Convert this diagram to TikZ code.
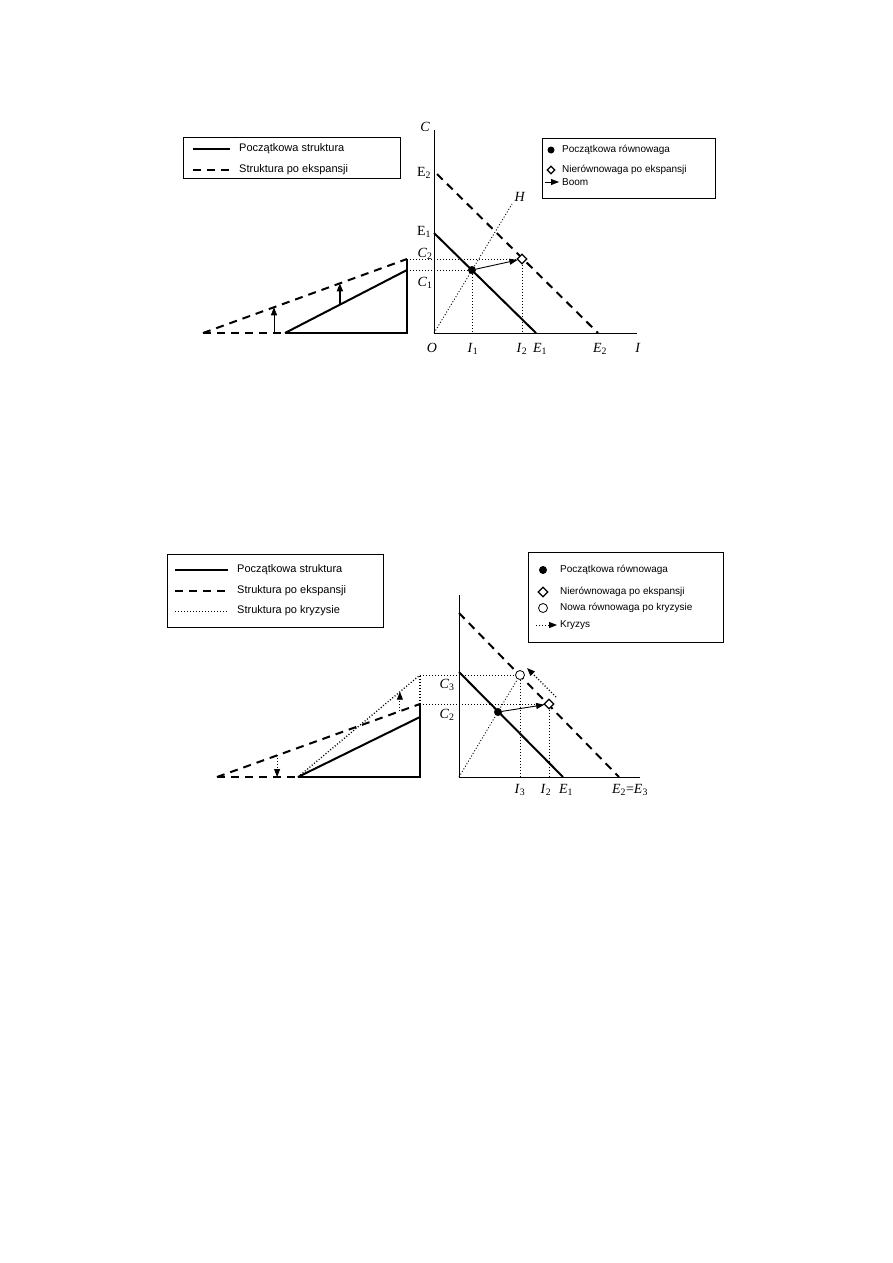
\documentclass[tikz,border=0pt]{standalone}
\usepackage{fontspec}
\setmainfont{Liberation Serif}
\newfontfamily\legfont{Liberation Sans}
\usetikzlibrary{arrows.meta,shapes.geometric,calc}

\newcommand{\ax}[2]{\textit{#1}\textsubscript{#2}}

\begin{document}
\begin{tikzpicture}[x=1pt,y=-1pt,>={Triangle[length=8pt,width=6pt]},
  axis/.style={line width=0.7pt},
  thickline/.style={line width=2pt},
  base/.style={line width=2.6pt},
  dashline/.style={line width=2pt,dash pattern=on 8pt off 6pt},
  dotline/.style={line width=0.9pt,dash pattern=on 1pt off 2pt},
  lab/.style={font=\fontsize{14}{14}\selectfont,inner sep=1pt},
  leg/.style={font=\legfont\fontsize{11}{13}\selectfont,anchor=west,inner sep=0pt},
  legs/.style={font=\legfont\fontsize{10}{12}\selectfont,anchor=west,inner sep=0pt},
  legbox/.style={draw,line width=0.9pt,anchor=north west,inner sep=0pt},
  eq/.style={circle,fill,inner sep=0pt,minimum size=8pt},
  dis/.style={diamond,draw,fill=white,line width=1.2pt,inner sep=0pt,minimum size=10pt},
  neq/.style={circle,draw,fill=white,line width=0.8pt,inner sep=0pt,minimum size=9pt}]
\useasboundingbox (0,0) rectangle (893,1263);

% ---------- upper figure: boom ----------
\node[legbox,minimum width=217pt,minimum height=41pt] (legA) at (183,137) {};
\draw[thickline] (193,149) -- (230,149);
\draw[dashline] (193,170) -- (230,170);
\node[leg] (legA1) at (239,149) {Początkowa struktura};
\node[leg] (legA2) at (239,170) {Struktura po ekspansji};

\node[legbox,minimum width=173pt,minimum height=60pt] (legB) at (542,138) {};
\node[eq,minimum size=7pt] (legB1) at (551,150) {};
\node[dis,minimum size=8pt] (legB2) at (551,170) {};
\draw[->,line width=0.8pt] (545,182) -- (559,182);
\node[legs] (legB1t) at (562,150) {Początkowa równowaga};
\node[legs] (legB2t) at (562,170) {Nierównowaga po ekspansji};
\node[legs] (legB3t) at (562,182) {Boom};

% axes
\coordinate (O1) at (434,333);
\coordinate (C1top) at (434,130);
\coordinate (I1end) at (637,333);
\draw[axis] (C1top) -- (O1) -- (I1end);

\coordinate (E2a) at (437,174);
\coordinate (E2b) at (598,333);
\coordinate (E1a) at (434,233);
\coordinate (E1b) at (536,333);
\draw[dashline] (E2a) -- (E2b);
\draw[thickline] (E1a) -- (E1b);

\coordinate (H) at (512,204);
\draw[dotline] (O1) -- (H);

\node[eq] (p1) at (472,270) {};
\node[dis] (q1) at (522,259) {};

% triangle
\coordinate (t1) at (285,333);
\coordinate (r1) at (407,333);
\coordinate (s1) at (407,270);
\coordinate (d1) at (407,259);
\coordinate (d0) at (203,333);
\draw[base] (t1) -- (r1) -- (d1);
\draw[thickline] (t1) -- (s1);
\draw[dashline] (d0) -- (t1);
\draw[dashline] (d0) -- (d1);

\draw[dotline] (d1) -- (q1);
\draw[dotline] (s1) -- (p1);
\draw[dotline] (p1) -- (p1 |- O1);
\draw[dotline] (q1) -- (q1 |- O1);
\draw[->,line width=0.9pt] (p1) -- (q1);

\coordinate (u1) at ($(d0)!0.348!(d1)$);
\draw[->,line width=0.7pt] (u1 |- r1) -- (u1);
\coordinate (u2) at ($(d0)!0.672!(d1)$);
\coordinate (v2) at ($(t1)!0.45!(s1)$);
\draw[->,line width=1.6pt] (v2) -- (v2 |- u2);

% labels
\node[lab] (lC) at (425,127) {\textit{C}};
\node[lab] (lE2) at (424,173) {E\textsubscript{2}};
\node[lab] (lE1) at (424,232) {E\textsubscript{1}};
\node[lab] (lC2) at (425,254) {\ax{C}{2}};
\node[lab] (lC1) at (425,283) {\ax{C}{1}};
\node[lab] (lH) at (520,197) {\textit{H}};
\node[lab] (lO) at (432,348) {\textit{O}};
\node[lab] (lI1) at (473,349) {\ax{I}{1}};
\node[lab] (lI2) at (522,349) {\ax{I}{2}};
\node[lab] (lE1x) at (540,349) {\ax{E}{1}};
\node[lab] (lE2x) at (600,349) {\ax{E}{2}};
\node[lab] (lI) at (638,348) {\textit{I}};

% ---------- lower figure: crisis ----------
\node[legbox,minimum width=216pt,minimum height=73pt] (legC) at (167,554) {};
\draw[line width=1.2pt] (175,570) -- (228,570);
\draw[dashline] (175,591) -- (228,591);
\draw[dotline] (175,611) -- (228,611);
\node[leg] (legC1) at (237,570) {Początkowa struktura};
\node[leg] (legC2) at (237,591) {Struktura po ekspansji};
\node[leg] (legC3) at (237,611) {Struktura po kryzysie};

\node[legbox,minimum width=195pt,minimum height=90pt] (legD) at (528,552) {};
\node[eq] (legD1) at (543,570) {};
\node[dis] (legD2) at (543,592) {};
\node[neq] (legD3) at (543,608) {};
\draw[dotline,->] (536,625) -- (557,625);
\node[legs] (legD1t) at (560,570) {Początkowa równowaga};
\node[legs] (legD2t) at (560,592) {Nierównowaga po ekspansji};
\node[legs] (legD3t) at (560,608) {Nowa równowaga po kryzysie};
\node[legs] (legD4t) at (560,625) {Kryzys};

% axes
\coordinate (O2) at (459,777);
\coordinate (C2top) at (459,595);
\coordinate (I2end) at (640,777);
\draw[axis] (C2top) -- (O2) -- (I2end);

\coordinate (F2a) at (459,613);
\coordinate (F2b) at (619,777);
\coordinate (F1a) at (459,672);
\coordinate (F1b) at (563,777);
\draw[dashline] (F2a) -- (F2b);
\draw[thickline] (F1a) -- (F1b);

\node[neq] (r2) at (520,675) {};
\draw[dotline] (O2) -- (r2);
\node[eq] (p2) at (498,712) {};
\node[dis] (q2) at (549,704) {};

% triangle
\coordinate (t2) at (298,777);
\coordinate (rr2) at (420,777);
\coordinate (s2) at (420,717);
\coordinate (d2) at (420,704);
\coordinate (k2) at (420,675);
\coordinate (d02) at (217,777);
\draw[base] (t2) -- (rr2) -- (d2);
\draw[dotline,line width=1.3pt] (d2) -- (k2);
\draw[thickline] (t2) -- (s2);
\draw[dashline] (d02) -- (t2);
\draw[dashline] (d02) -- (d2);
\draw[dotline,line width=1.3pt] (t2) -- (k2);

\draw[dotline] (k2) -- (r2);
\draw[dotline] (d2) -- (q2);
\draw[dotline] (r2) -- (r2 |- O2);
\draw[dotline] (q2) -- (q2 |- O2);
\draw[->,line width=0.9pt] (p2) -- (q2);
\draw[dotline,line width=1.3pt,->] ([shift={(7,-7)}]q2.center) -- ([shift={(7,-7)}]r2.center);

\coordinate (u3) at ($(d02)!0.296!(d2)$);
\draw[dotline,->] (u3) -- (u3 |- rr2);
\coordinate (u4) at ($(d02)!0.901!(d2)$);
\coordinate (v4) at ($(t2)!0.836!(k2)$);
\draw[dotline,->] (u4) -- (u4 |- v4);

% labels
\node[lab] (lC3) at (447,685) {\ax{C}{3}};
\node[lab] (lC2b) at (447,715) {\ax{C}{2}};
\node[lab] (lI3) at (520,790) {\ax{I}{3}};
\node[lab] (lI2b) at (546,790) {\ax{I}{2}};
\node[lab] (lE1y) at (566,790) {\ax{E}{1}};
\node[lab] (lE23) at (630,790) {\ax{E}{2}=\ax{E}{3}};
\end{tikzpicture}
\end{document}
